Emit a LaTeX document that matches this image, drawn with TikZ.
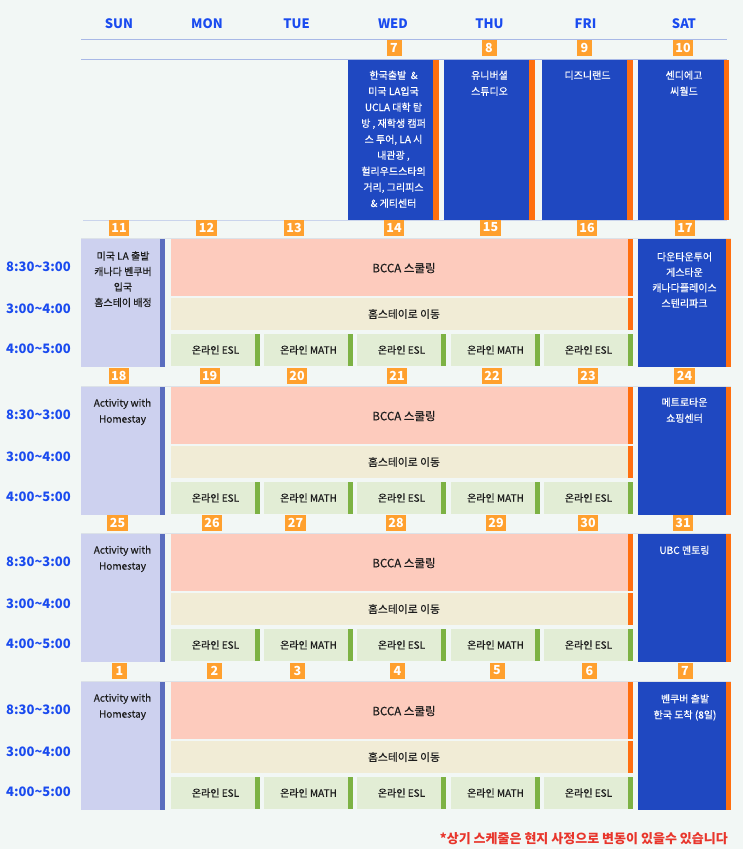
\documentclass[tikz,border=0pt]{standalone}
\usepackage{fontspec}
\setmainfont{Noto Sans CJK KR}
\newfontfamily\medfont{Noto Sans CJK KR}[FakeBold=0.45]
\definecolor{bgC}{HTML}{F2F7F5}
\definecolor{blockC}{HTML}{1F48C1}
\definecolor{orangeC}{HTML}{FF6F0F}
\definecolor{badgeC}{HTML}{FFA02E}
\definecolor{lavC}{HTML}{CDD1EF}
\definecolor{lavSC}{HTML}{5A6DBF}
\definecolor{salmonC}{HTML}{FDCBBD}
\definecolor{creamC}{HTML}{F1ECD6}
\definecolor{greenLC}{HTML}{E2EDD5}
\definecolor{greenSC}{HTML}{7DB244}
\definecolor{hdrC}{HTML}{1A4BEF}
\definecolor{darkC}{HTML}{1C1C1C}
\definecolor{redC}{HTML}{E8352B}
\definecolor{lineC}{HTML}{A8B8E6}
\definecolor{line2C}{HTML}{CAD4EC}
\definecolor{line3C}{HTML}{DCE2E8}
\begin{document}
\begin{tikzpicture}[x=1pt,y=-1pt,
  badge/.style={fill=badgeC,text=white,font=\bfseries\fontsize{12.5}{12.5}\selectfont,inner xsep=2.5pt,inner ysep=0pt,minimum height=16pt,minimum width=15pt},
  dayhdr/.style={text=hdrC,font=\bfseries\fontsize{13}{13}\selectfont,inner sep=0pt},
  timelbl/.style={text=hdrC,font=\bfseries\fontsize{13}{13}\selectfont,inner sep=0pt},
  wtxt/.style={text=white,font=\medfont\fontsize{10}{16}\selectfont,align=center,anchor=north,inner sep=0pt},
  dtxt/.style={text=darkC,font=\medfont\fontsize{10}{15.5}\selectfont,align=center,anchor=north,inner sep=0pt},
  celltxt/.style={text=darkC,font=\medfont\fontsize{10}{10}\selectfont,inner sep=0pt},
]
\useasboundingbox (0,0) rectangle (743,849);
\fill[bgC] (0,0) rectangle (743,849);
% day headers
\foreach \x/\d [count=\i] in {119/SUN,207/MON,296.5/TUE,393/WED,489.5/THU,585.5/FRI,684/SAT}
  \node[dayhdr] (day\i) at (\x,24) {\d};
\draw[lineC,line width=1pt] (81,39.3) -- (727,39.3);
\draw[lineC,line width=1pt] (81,59.3) -- (727,59.3);
\draw[line2C,line width=1.5pt] (83,220.5) -- (727,220.5);
% week 0
\foreach \a/\b/\c in {348/433/439,444/529/535,542/627/633,638/724/729}{
  \fill[blockC] (\a,60) rectangle (\b,220);
  \fill[orangeC] (\b,60) rectangle (\c,220);
}
\foreach \x/\d [count=\i] in {394/7,489/8,584.5/9,683/10}
  \node[badge] (b0\i) at (\x,47.5) {\d};
\node[wtxt] (wed0) at (393.5,70.5) {한국출발\ \ \&\\미국 LA입국\\UCLA 대학 탐\\방 , 재학생 캠퍼\\스 투어, LA 시\\내관광 ,\\헐리우드스타의\\거리, 그리피스\\\& 게티센터};
\node[wtxt] (thu0) at (489.5,70.5) {유니버셜\\스튜디오};
\node[wtxt] (fri0) at (587.5,70.5) {디즈니랜드};
\node[wtxt] (sat0) at (684,70.5) {센디에고\\씨월드};
% weeks 1-4
\foreach \T [count=\w] in {239,387,534,682}{
  \fill[line3C] (81,\T-1.5) rectangle (731,\T);
  \fill[lavC] (81,\T) rectangle (160,\T+128);
  \fill[lavSC] (160,\T) rectangle (165,\T+128);
  \fill[salmonC] (171,\T) rectangle (628,\T+57);
  \fill[orangeC] (628,\T) rectangle (633,\T+57);
  \fill[creamC] (171,\T+59) rectangle (628,\T+91);
  \fill[orangeC] (628,\T+59) rectangle (633,\T+91);
  \fill[blockC] (638,\T) rectangle (726,\T+128);
  \fill[orangeC] (726,\T) rectangle (731,\T+128);
  \node[celltxt,font=\medfont\fontsize{11.5}{11.5}\selectfont] (bcca\w) at (404,\T+29) {BCCA 스쿨링};
  \node[celltxt,font=\medfont\fontsize{10.8}{10.8}\selectfont] (home\w) at (404,\T+75) {홈스테이로 이동};
  \foreach \x/\s [count=\i] in {171/ESL,264/MATH,357/ESL,451/MATH,544/ESL}{
    \fill[greenLC] (\x,\T+95) rectangle (\x+84,\T+127);
    \fill[greenSC] (\x+84,\T+95) rectangle (\x+89,\T+127);
    \node[celltxt] (on\w-\i) at (\x+44.5,\T+111) {온라인 \s};
  }
  \node[timelbl] (ta\w) at (38.5,\T+27.5) {8:30\textasciitilde 3:00};
  \node[timelbl] (tb\w) at (38.5,\T+70) {3:00\textasciitilde 4:00};
  \node[timelbl] (tc\w) at (38.5,\T+110) {4:00\textasciitilde 5:00};
}
% date badges
\foreach \x/\d in {119/11,206.5/12,294/13,394/14,490.5/15,587/16,685/17}
  \node[badge] (da\d) at (\x,227.5) {\d};
\foreach \x/\d in {118.8/18,209.7/19,297/20,397/21,492/22,588/23,684.5/24}
  \node[badge] (db\d) at (\x,375.5) {\d};
\foreach \x/\d in {117.5/25,212/26,295.5/27,396/28,496/29,588/30,683/31}
  \node[badge] (dc\d) at (\x,523) {\d};
\foreach \x/\d in {119.5/1,214.5/2,297.5/3,397.5/4,497/5,589.5/6,685/7}
  \node[badge] (dd\d) at (\x,670.5) {\d};
% week texts
\node[dtxt] (sun1) at (123,251.2) {미국 LA 출발\\캐나다 벤쿠버\\입국\\홈스테이 배정};
\node[wtxt,font=\medfont\fontsize{10}{15.5}\selectfont] (sat1) at (684.5,252) {다운타운투어\\게스타운\\캐나다플레이스\\스텐리파크};
\node[dtxt,font=\medfont\fontsize{10}{16}\selectfont] (sun2) at (122.5,398.5) {Activity with\\Homestay};
\node[wtxt] (sat2) at (684.5,397.5) {메트로타운\\쇼핑센터};
\node[dtxt,font=\medfont\fontsize{10}{16}\selectfont] (sun3) at (122.5,545.5) {Activity with\\Homestay};
\node[wtxt] (sat3) at (684.5,545.5) {UBC 멘토링};
\node[dtxt,font=\medfont\fontsize{10}{16}\selectfont] (sun4) at (122.5,693.5) {Activity with\\Homestay};
\node[wtxt] (sat4) at (685,694) {벤쿠버 출발\\한국 도착 (8일)};
% footer
\node[font=\bfseries\fontsize{13}{13}\selectfont,text=redC,anchor=east,inner sep=0pt] (note) at (728,838.3) {*상기 스케줄은 현지 사정으로 변동이 있을수 있습니다};
\end{tikzpicture}
\end{document}
